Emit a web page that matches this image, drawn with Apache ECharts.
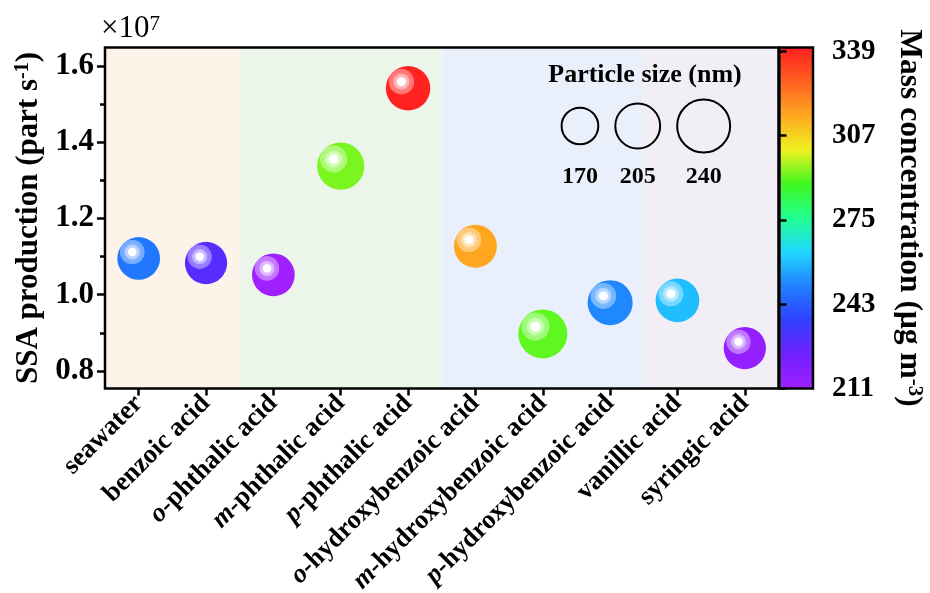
<!DOCTYPE html>
<html>
<head>
<meta charset="utf-8">
<script src="https://cdn.jsdelivr.net/npm/echarts@6/dist/echarts.min.js"></script>
<style>
  html, body { margin: 0; padding: 0; background: #fff; }
  #chart { width: 930px; height: 593px; }
</style>
</head>
<body>
<div id="chart"></div>
<script>
// ---- data ----
const categories = [
  'seawater', 'benzoic acid', 'o-phthalic acid', 'm-phthalic acid', 'p-phthalic acid',
  'o-hydroxybenzoic acid', 'm-hydroxybenzoic acid', 'p-hydroxybenzoic acid',
  'vanillic acid', 'syringic acid'
];
// SSA production, in units of 1e7 part s^-1
const ssaProduction = [1.095, 1.083, 1.052, 1.337, 1.541, 1.127, 0.897, 0.979, 0.985, 0.860];
// particle size (nm) -> bubble size
const particleSize = [196, 194, 196, 215, 203, 197, 223, 206, 200, 194];
// mass concentration (ug m^-3) -> bubble colour
const massConcentration = [248, 229, 211, 293, 340, 315, 291, 251, 259, 214];
// category index ranges sharing a background band
const bandGroups = [[0, 1], [2, 4], [5, 7], [8, 9]];
const sizeLegend = [170, 205, 240];
const ssaMajorTicks = [0.8, 1.0, 1.2, 1.4, 1.6];
const ssaMinorTicks = [0.9, 1.1, 1.3, 1.5];
const massTicks = [211, 243, 275, 307, 339];
const ssaRange = [0.754, 1.648];
const massRange = [211, 340.5];

// ---- styles & layout ----
const FONT = 'Liberation Serif';
const bandColors = ['#fdf3e9', '#ebf5ea', '#eaf0fb', '#f1eef6'];
const rainbow = ['#a020ff', '#7020ff', '#3040ff', '#2080ff', '#20d8ff', '#20ff90',
                 '#40f820', '#f0f020', '#ffa820', '#ff6020', '#ff2020'];
const PLOT = { left: 105, right: 778.5, top: 47.5, bottom: 388.5 };
const CBAR = { left: 779.5, right: 813 };

function sizeToDiameter(nm) { return 36.7 + (nm - 170) * 0.233; }

function tint(color, t) {
  const c = echarts.color.parse(color);
  const m = v => Math.round(v + (255 - v) * t);
  return 'rgb(' + m(c[0]) + ',' + m(c[1]) + ',' + m(c[2]) + ')';
}

function glossy(base) {
  return {
    type: 'radial', x: 0.35, y: 0.35, r: 0.5,
    colorStops: [
      { offset: 0, color: '#ffffff' },
      { offset: 0.18, color: '#ffffff' },
      { offset: 0.21, color: tint(base, 0.72) },
      { offset: 0.34, color: tint(base, 0.62) },
      { offset: 0.37, color: tint(base, 0.42) },
      { offset: 0.56, color: tint(base, 0.36) },
      { offset: 0.59, color: base },
      { offset: 1, color: base }
    ]
  };
}

const bold = { fontFamily: FONT, fontWeight: 'bold', color: '#000' };

function catLabel(name) {
  const m = name.match(/^([omp])-(.*)$/);
  if (m) return '{it|' + m[1] + '}{n|-' + m[2] + '}';
  return '{n|' + name + '}';
}

// size legend elements
const legendEls = [];
let lx = 560.6;
const legendGap = 15;
sizeLegend.forEach(s => {
  const d = sizeToDiameter(s);
  const cx = lx + 1 + d / 2;
  legendEls.push({
    type: 'circle', shape: { cx: cx, cy: 126, r: d / 2 },
    style: { fill: 'none', stroke: '#000', lineWidth: 2 }, z: 20
  });
  legendEls.push({
    type: 'text', x: cx, y: 177,
    style: { text: String(s), font: 'bold 24px ' + FONT, fill: '#000', align: 'center', verticalAlign: 'middle' }, z: 20
  });
  lx += d + 2 + legendGap;
});
legendEls.push({
  type: 'text', x: 645, y: 75,
  style: { text: 'Particle size (nm)', font: 'bold 26px ' + FONT, fill: '#000', align: 'center', verticalAlign: 'middle' }, z: 20
});
legendEls.push({
  type: 'text', x: 101, y: 29,
  style: {
    text: '{b|\u00d710}{s|7}', fill: '#000', verticalAlign: 'middle',
    rich: {
      b: { fontFamily: FONT, fontSize: 31, fill: '#000', verticalAlign: 'bottom' },
      s: { fontFamily: FONT, fontSize: 21, fill: '#000', verticalAlign: 'top' }
    }
  }, z: 20
});

const bubbleData = categories.map((c, i) => [i, ssaProduction[i], particleSize[i], massConcentration[i]]);
const bandData = bandGroups.map(g => [g[0], g[1]]);

const chart = echarts.init(document.getElementById('chart'), null, { renderer: 'canvas' });
chart.setOption({
  animation: false,
  backgroundColor: '#fff',
  grid: [
    { left: PLOT.left, top: PLOT.top, width: PLOT.right - PLOT.left, height: PLOT.bottom - PLOT.top,
      outerBoundsMode: 'none', containLabel: false,
      show: true, borderColor: '#000', borderWidth: 2.5, backgroundColor: 'transparent', z: 6 },
    { left: CBAR.left, top: PLOT.top, width: CBAR.right - CBAR.left, height: PLOT.bottom - PLOT.top,
      outerBoundsMode: 'none', containLabel: false,
      show: true, borderColor: '#000', borderWidth: 2.5, backgroundColor: 'transparent', z: 6 }
  ],
  xAxis: [
    {
      gridIndex: 0, type: 'category', data: categories, boundaryGap: true, z: 6,
      axisLine: { show: false },
      axisTick: { show: true, alignWithLabel: true, inside: false, length: 7, lineStyle: { color: '#000', width: 2.5 } },
      axisLabel: {
        rotate: 45, margin: 11, interval: 0, formatter: catLabel,
        rich: {
          n: Object.assign({ fontSize: 26.5 }, bold),
          it: Object.assign({ fontSize: 26.5, fontStyle: 'italic' }, bold)
        }
      },
      splitLine: { show: false }
    },
    { gridIndex: 1, type: 'value', show: false, min: 0, max: 1 }
  ],
  yAxis: [
    {
      gridIndex: 0, type: 'value', position: 'left', min: ssaRange[0], max: ssaRange[1], z: 6,
      axisLine: { show: false },
      axisTick: { show: true, inside: false, length: 8, customValues: ssaMajorTicks, lineStyle: { color: '#000', width: 2.5 } },
      axisLabel: Object.assign({ customValues: ssaMajorTicks, fontSize: 31, margin: 11,
        formatter: v => v.toFixed(1) }, bold),
      splitLine: { show: false },
      name: 'SSA production (part s{sup|-1})',
      nameLocation: 'middle', nameRotate: 90, nameGap: 61,
      nameTextStyle: Object.assign({ fontSize: 31,
        rich: { sup: Object.assign({ fontSize: 20, verticalAlign: 'top' }, bold) } }, bold)
    },
    {
      gridIndex: 0, type: 'value', position: 'left', min: ssaRange[0], max: ssaRange[1], z: 6,
      axisLine: { show: false },
      axisTick: { show: true, inside: false, length: 5, customValues: ssaMinorTicks, lineStyle: { color: '#000', width: 2.5 } },
      axisLabel: { show: false }, splitLine: { show: false }
    },
    {
      gridIndex: 1, type: 'value', position: 'right', min: massRange[0], max: massRange[1], z: 6,
      axisLine: { show: false },
      axisTick: { show: true, inside: false, length: 7, customValues: massTicks, lineStyle: { color: '#000', width: 2.5 } },
      axisLabel: Object.assign({ customValues: massTicks, fontSize: 29, margin: 19 }, bold),
      splitLine: { show: false },
      name: 'Mass concentration (\u03bcg m{sup|-3})',
      nameLocation: 'middle', nameRotate: -90, nameGap: 80,
      nameTextStyle: Object.assign({ fontSize: 31.5,
        rich: { sup: Object.assign({ fontSize: 21, verticalAlign: 'top' }, bold) } }, bold)
    }
  ],
  visualMap: {
    type: 'continuous', min: massRange[0], max: massRange[1], dimension: 3, seriesIndex: 1,
    orient: 'vertical', calculable: false, hoverLink: false, padding: 0,
    left: CBAR.left + 1, top: PLOT.top, itemWidth: CBAR.right - CBAR.left - 2, itemHeight: PLOT.bottom - PLOT.top,
    inRange: { color: rainbow }, z: 4
  },
  series: [
    {
      type: 'custom', xAxisIndex: 0, yAxisIndex: 0, data: bandData, z: 1, silent: true,
      renderItem: function (params, api) {
        const a = api.coord([api.value(0), ssaRange[0]]);
        const b = api.coord([api.value(1), ssaRange[0]]);
        const bw = api.size([1, 0])[0];
        const cs = params.coordSys;
        return {
          type: 'rect',
          shape: { x: a[0] - bw / 2, y: cs.y, width: b[0] - a[0] + bw, height: cs.height },
          style: { fill: bandColors[params.dataIndex] }
        };
      }
    },
    {
      type: 'custom', xAxisIndex: 0, yAxisIndex: 0, data: bubbleData, z: 3,
      encode: { x: 0, y: 1 },
      renderItem: function (params, api) {
        const p = api.coord([api.value(0), api.value(1)]);
        const r = sizeToDiameter(api.value(2)) / 2;
        const base = api.visual('color');
        return {
          type: 'circle', shape: { cx: p[0], cy: p[1], r: r },
          style: { fill: glossy(base) }
        };
      }
    }
  ],
  graphic: legendEls
});
</script>
</body>
</html>
